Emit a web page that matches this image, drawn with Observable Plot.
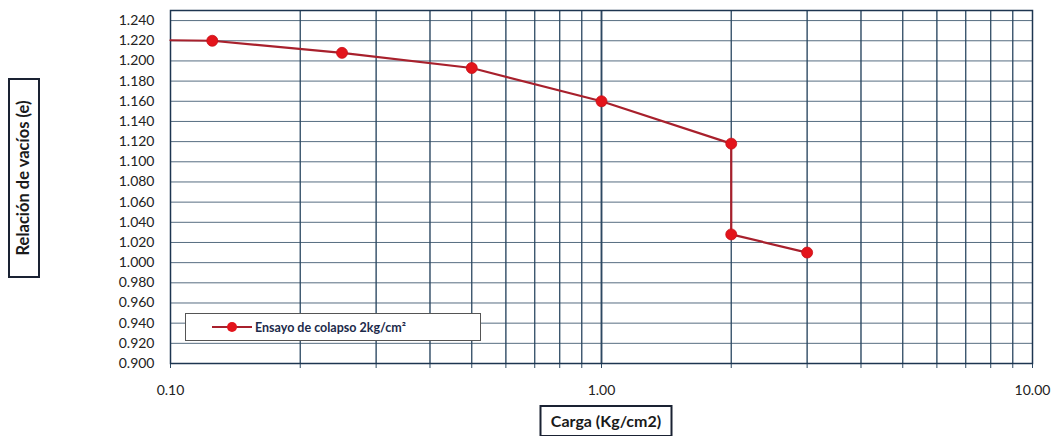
<!DOCTYPE html>
<html>
<head>
<meta charset="utf-8">
<script src="https://cdn.jsdelivr.net/npm/d3@7"></script>
<script src="https://cdn.jsdelivr.net/npm/@observablehq/plot@0.6"></script>
<style>
  html, body { margin: 0; padding: 0; background: #fff; }
  #wrap { position: relative; width: 1060px; height: 436px; font-family: Lato, "Open Sans", sans-serif; overflow: hidden; }
  .box { position: absolute; border: 2.5px solid #1a2233; background: #fff; font-weight: 700; color: #1a1a1a; white-space: nowrap; text-align: center; box-sizing: border-box; }
  #ylab { left: 24px; top: 178px; width: 200px; height: 32px; line-height: 27px; transform: translate(-50%, -50%) rotate(-90deg); font-size: 16.5px; }
  #xlab { left: 606px; top: 421px; width: 133px; height: 32px; line-height: 27px; transform: translate(-50%, -50%); font-size: 16px; }
  #legend { position: absolute; left: 185px; top: 313px; width: 296px; height: 28px; box-sizing: border-box; border: 1.5px solid #555; background: #fff; display: flex; align-items: center; font-weight: 700; font-size: 12.5px; color: #1c2a4a; }
  #legend svg { margin-left: 26px; margin-right: 3px; }
</style>
</head>
<body>
<div id="wrap"></div>
<script>
// Data: void ratio (e) vs load (Kg/cm2), collapse test
const carga = [0.125, 0.25, 0.5, 1.0, 2.0, 2.0, 3.0];
const vacios = [1.220, 1.208, 1.193, 1.160, 1.118, 1.028, 1.010];
// line continues to the left border of the chart
const lineStartX = [0.10];
const lineStartY = [1.2205];
const seriesName = "Ensayo de colapso 2kg/cm²";
const yTicks = [0.90, 0.92, 0.94, 0.96, 0.98, 1.00, 1.02, 1.04, 1.06, 1.08, 1.10, 1.12, 1.14, 1.16, 1.18, 1.20, 1.22, 1.24];
const xTickLabels = [0.1, 1, 10];
const xGridTicks = [0.1, 0.2, 0.3, 0.4, 0.5, 0.6, 0.7, 0.8, 0.9, 1, 2, 3, 4, 5, 6, 7, 8, 9, 10];

const points = carga.map((x, i) => ({x, y: vacios[i]}));
const linePts = lineStartX.map((x, i) => ({x, y: lineStartY[i]})).concat(points);

const gridColor = "#2c4862";
const chart = Plot.plot({
  width: 1060,
  height: 436,
  marginLeft: 170,
  marginRight: 28,
  marginTop: 10,
  marginBottom: 73,
  style: {fontFamily: "Lato, 'Open Sans', sans-serif", fontSize: "14px", color: "#333", background: "#fff"},
  x: {type: "log", domain: [0.1, 10]},
  y: {domain: [0.9, 1.25]},
  marks: [
    Plot.gridX(xGridTicks, {stroke: gridColor, strokeOpacity: 0.8, strokeWidth: 1}),
    Plot.gridX([1], {stroke: "#1d3550", strokeOpacity: 1, strokeWidth: 1.8}),
    Plot.gridY(yTicks, {stroke: gridColor, strokeOpacity: 0.8, strokeWidth: 1}),
    Plot.tickX(xGridTicks, {x: d => d, y1: 0.9, y2: 0.9, insetBottom: -5, stroke: gridColor}),
    Plot.frame({stroke: "#1d3550", strokeWidth: 1.5}),
    Plot.axisX(xTickLabels, {tickFormat: d => d.toFixed(2), tickSize: 0, tickPadding: 22, label: null, fill: "#222", fontSize: 14}),
    Plot.axisY(yTicks, {tickFormat: d => d.toFixed(3), tickSize: 0, tickPadding: 16, label: null, fill: "#222", fontSize: 14}),
    Plot.line(linePts, {x: "x", y: "y", stroke: "#a8202c", strokeWidth: 2.2}),
    Plot.dot(points, {x: "x", y: "y", r: 5.5, fill: "#e3141b", stroke: "#c81018", strokeWidth: 0.8})
  ]
});

const wrap = document.getElementById("wrap");
wrap.appendChild(chart);

const ylab = document.createElement("div");
ylab.className = "box"; ylab.id = "ylab"; ylab.textContent = "Relación de vacíos (e)";
wrap.appendChild(ylab);

const xlab = document.createElement("div");
xlab.className = "box"; xlab.id = "xlab"; xlab.textContent = "Carga (Kg/cm2)";
wrap.appendChild(xlab);

const legend = document.createElement("div");
legend.id = "legend";
legend.innerHTML = `<svg width="40" height="12"><line x1="0" y1="6" x2="40" y2="6" stroke="#a8202c" stroke-width="2"/><circle cx="20" cy="6" r="5" fill="#e3141b"/></svg><span></span>`;
legend.querySelector("span").textContent = seriesName;
wrap.appendChild(legend);
</script>
</body>
</html>
